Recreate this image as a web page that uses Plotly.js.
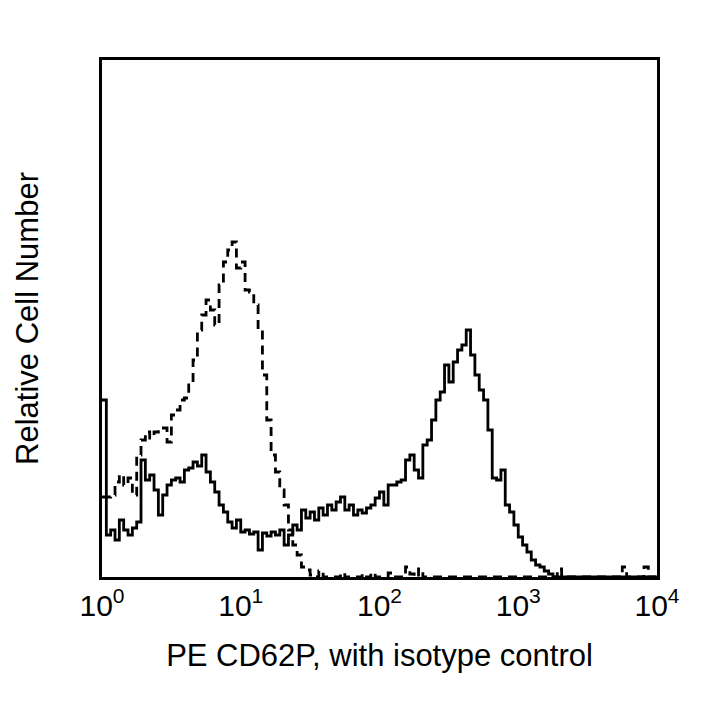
<!DOCTYPE html>
<html>
<head>
<meta charset="utf-8">
<script src="https://cdn.plot.ly/plotly-3.0.1.min.js"></script>
<style>html,body{margin:0;padding:0;background:#fff;}#chart{width:720px;height:720px;}</style>
</head>
<body>
<div id="chart"></div>
<script>
// Histogram channels: 32 channels per decade over 4 decades (left edges of bins)
const channelsPerDecade = 32;
const nChannels = 128;

// Relative cell counts per channel, PE CD62P stained (solid)
const cd62pCounts = [
 177, 42, 47, 37, 57, 47, 42, 49, 55, 117,
 97, 102, 87, 62, 82, 92, 97, 99, 95, 107,
 109, 115, 111, 122, 105, 95, 85, 72, 65, 55,
 49, 57, 45, 47, 43, 45, 27, 44, 41, 45,
 42, 47, 32, 42, 52, 47, 67, 59, 65, 57,
 69, 62, 72, 67, 75, 80, 67, 72, 62, 67,
 64, 69, 72, 79, 85, 72, 92, 92, 95, 97,
 117, 122, 107, 99, 132, 137, 157, 177, 185, 212,
 195, 215, 227, 232, 247, 222, 202, 187, 177, 147,
 99, 97, 107, 72, 65, 52, 40, 32, 25, 17,
 12, 10, 6, 3, 0, 0, 0, 0, 0, 0,
 0, 0, 0, 0, 0, 0, 0, 0, 0, 0,
 0, 0, 0, 0, 0, 0, 0, 0
];

// Relative cell counts per channel, isotype control (dashed)
const isotypeCounts = [
 80, 80, 82, 95, 102, 92, 99, 82, 122, 137,
 145, 139, 145, 149, 149, 135, 162, 167, 177, 179,
 192, 217, 247, 262, 277, 267, 252, 292, 315, 327,
 335, 309, 315, 287, 285, 272, 247, 202, 157, 122,
 105, 87, 72, 47, 32, 22, 10, 7, 2, 0,
 6, 0, 0, 0, 0, 4, 0, 0, 0, 0,
 3, 0, 4, 0, 0, 0, 4, 0, 0, 0,
 10, 3, 0, 8, 0, 0, 0, 0, 0, 0,
 0, 0, 0, 0, 0, 0, 0, 0, 0, 0,
 0, 0, 0, 0, 0, 0, 0, 0, 0, 0,
 0, 0, 0, 0, 0, 8, 0, 0, 0, 0,
 0, 0, 0, 0, 0, 0, 0, 0, 0, 0,
 10, 0, 0, 0, 0, 10, 0, 0
];

const tickValues = [1, 10, 100, 1000, 10000];
const tickLabels = ["10<sup>0</sup>", "10<sup>1</sup>", "10<sup>2</sup>", "10<sup>3</sup>", "10<sup>4</sup>"];
const xTitle = "PE CD62P, with isotype control";
const yTitle = "Relative Cell Number";

const channelEdges = [];
for (let i = 0; i <= nChannels; i++) channelEdges.push(Math.pow(10, i / channelsPerDecade));

function stepTrace(counts, dash) {
  const ys = counts.slice();
  ys.push(counts[counts.length - 1]);
  return {
    x: channelEdges.slice(0, ys.length),
    y: ys,
    type: 'scatter',
    mode: 'lines',
    line: {shape: 'hv', color: '#000', width: 2.8, dash: dash},
    hoverinfo: 'skip',
    showlegend: false
  };
}

const data = [
  stepTrace(isotypeCounts, '9px,6px'),
  stepTrace(cd62pCounts, 'solid')
];

const font = {family: 'Liberation Sans, Arial, sans-serif', color: '#000'};

const layout = {
  width: 720, height: 720,
  margin: {l: 102, r: 63, t: 60, b: 143},
  paper_bgcolor: '#fff', plot_bgcolor: '#fff',
  showlegend: false,
  xaxis: {
    type: 'log', range: [0, 4],
    tickvals: tickValues, ticktext: tickLabels,
    ticks: '', ticklen: 0, showgrid: false, zeroline: false,
    showline: true, mirror: true, linecolor: '#000', linewidth: 3,
    tickfont: Object.assign({size: 30}, font),
    title: {text: xTitle, font: Object.assign({size: 31}, font), standoff: 24}
  },
  yaxis: {
    range: [0, 517],
    showticklabels: false, ticks: '', showgrid: false, zeroline: false,
    showline: true, mirror: true, linecolor: '#000', linewidth: 3,
    title: {text: yTitle, font: Object.assign({size: 31}, font), standoff: 52}
  }
};

Plotly.newPlot('chart', data, layout, {staticPlot: true, displayModeBar: false});
</script>
</body>
</html>
